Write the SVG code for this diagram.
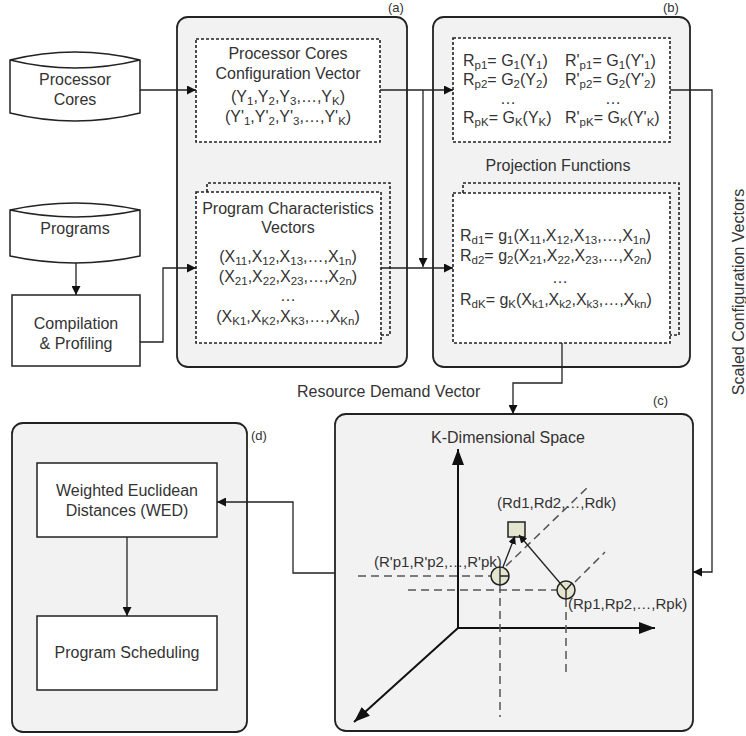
<svg xmlns="http://www.w3.org/2000/svg" width="746" height="736" viewBox="0 0 746 736">
  <defs>
    <marker id="arr" viewBox="0 0 10 10" refX="10" refY="5" markerWidth="9" markerHeight="9" markerUnits="userSpaceOnUse" orient="auto">
      <path d="M0,0 L10,5 L0,10 z" fill="#111"/>
    </marker>
    <marker id="axis" viewBox="0 0 10 10" refX="10" refY="5" markerWidth="16" markerHeight="12" markerUnits="userSpaceOnUse" orient="auto" preserveAspectRatio="none">
      <path d="M0,0 L10,5 L0,10 z" fill="#111"/>
    </marker>
    <marker id="small" viewBox="0 0 10 10" refX="10" refY="5" markerWidth="8" markerHeight="8" markerUnits="userSpaceOnUse" orient="auto">
      <path d="M0,0 L10,5 L0,10 z" fill="#111"/>
    </marker>
  </defs>
  <style>
    text { font-family: "Liberation Sans", Arial, sans-serif; font-size: 16px; fill: #333; }
    .mid { text-anchor: middle; }
    .tag { font-size: 13px; }
    .lbl { font-size: 15px; }
    .s { font-size: 11.5px; baseline-shift: -3px; }
    .panel { fill: #f2f2f2; stroke: #222; stroke-width: 1.8; }
    .box { fill: #fff; stroke: #222; stroke-width: 1.5; }
    .dash { fill: #fff; stroke: #222; stroke-width: 1.6; stroke-dasharray: 3 2; }
    .dashback { fill: none; stroke: #222; stroke-width: 1.6; stroke-dasharray: 3 2; }
    .conn { fill: none; stroke: #222; stroke-width: 1.3; }
    .guide { fill: none; stroke: #555; stroke-width: 1.5; stroke-dasharray: 8 5; }
    .ax { fill: none; stroke: #111; stroke-width: 2; }
    .pt { fill: #e3e5cf; stroke: #222; stroke-width: 1.5; }
  </style>

  <rect width="746" height="736" fill="#fff"/>

  <!-- inputs -->
  <g id="processor-cores">
    <path class="box" d="M10,60 Q75,44 140,60 V113 Q75,129 10,113 Z"/>
    <path class="conn" d="M10,60 Q75,76 140,60"/>
    <text class="mid" x="75" y="85">Processor</text>
    <text class="mid" x="75" y="105">Cores</text>
  </g>
  <g id="programs">
    <path class="box" d="M10,210 Q75,196 140,210 V256 Q75,270 10,256 Z"/>
    <path class="conn" d="M10,210 Q75,224 140,210"/>
    <text class="mid" x="75" y="234">Programs</text>
  </g>
  <g id="compilation">
    <rect class="box" x="12" y="295" width="128" height="71"/>
    <text class="mid" x="76" y="329">Compilation</text>
    <text class="mid" x="76" y="349">&amp; Profiling</text>
  </g>

  <!-- (a) vectors -->
  <g id="panel-a">
    <rect class="panel" x="177" y="17" width="230" height="350" rx="11"/>
    <text class="tag" x="388" y="12">(a)</text>
    <rect class="dash" x="196" y="39" width="184" height="103"/>
    <text class="mid" x="288" y="59">Processor Cores</text>
    <text class="mid" x="288" y="79">Configuration Vector</text>
    <text class="mid" x="288" y="102">(Y<tspan class="s">1</tspan>,Y<tspan class="s">2</tspan>,Y<tspan class="s">3</tspan>,…,Y<tspan class="s">K</tspan>)</text>
    <text class="mid" x="288" y="122">(Y'<tspan class="s">1</tspan>,Y'<tspan class="s">2</tspan>,Y'<tspan class="s">3</tspan>,…,Y'<tspan class="s">K</tspan>)</text>
    <path class="dashback" d="M207,192 V183 H390 V335 H381"/>
    <rect class="dash" x="196" y="192" width="185" height="151"/>
    <text class="mid" x="288" y="214">Program Characteristics</text>
    <text class="mid" x="288" y="233">Vectors</text>
    <text class="mid" x="288" y="262">(X<tspan class="s">11</tspan>,X<tspan class="s">12</tspan>,X<tspan class="s">13</tspan>,…,X<tspan class="s">1n</tspan>)</text>
    <text class="mid" x="288" y="282">(X<tspan class="s">21</tspan>,X<tspan class="s">22</tspan>,X<tspan class="s">23</tspan>,…,X<tspan class="s">2n</tspan>)</text>
    <text class="mid" x="288" y="301">…</text>
    <text class="mid" x="288" y="322">(X<tspan class="s">K1</tspan>,X<tspan class="s">K2</tspan>,X<tspan class="s">K3</tspan>,…,X<tspan class="s">Kn</tspan>)</text>
  </g>

  <!-- (b) projection functions -->
  <g id="panel-b">
    <rect class="panel" x="433" y="17" width="257" height="350" rx="11"/>
    <text class="tag" x="663" y="12">(b)</text>
    <rect class="dash" x="453" y="38" width="217" height="104"/>
    <text x="463" y="66">R<tspan class="s">p1</tspan>= G<tspan class="s">1</tspan>(Y<tspan class="s">1</tspan>)</text>
    <text x="565" y="66">R'<tspan class="s">p1</tspan>= G<tspan class="s">1</tspan>(Y'<tspan class="s">1</tspan>)</text>
    <text x="463" y="85">R<tspan class="s">p2</tspan>= G<tspan class="s">2</tspan>(Y<tspan class="s">2</tspan>)</text>
    <text x="565" y="85">R'<tspan class="s">p2</tspan>= G<tspan class="s">2</tspan>(Y'<tspan class="s">2</tspan>)</text>
    <text class="mid" x="508" y="104">…</text>
    <text class="mid" x="613" y="104">…</text>
    <text x="463" y="123">R<tspan class="s">pK</tspan>= G<tspan class="s">K</tspan>(Y<tspan class="s">K</tspan>)</text>
    <text x="565" y="123">R'<tspan class="s">pK</tspan>= G<tspan class="s">K</tspan>(Y'<tspan class="s">K</tspan>)</text>
    <text class="mid" x="558" y="171">Projection Functions</text>
    <path class="dashback" d="M463,193 V183 H679 V335 H670"/>
    <rect class="dash" x="453" y="193" width="217" height="150"/>
    <text x="460" y="241">R<tspan class="s">d1</tspan>= g<tspan class="s">1</tspan>(X<tspan class="s">11</tspan>,X<tspan class="s">12</tspan>,X<tspan class="s">13</tspan>,…,X<tspan class="s">1n</tspan>)</text>
    <text x="460" y="261">R<tspan class="s">d2</tspan>= g<tspan class="s">2</tspan>(X<tspan class="s">21</tspan>,X<tspan class="s">22</tspan>,X<tspan class="s">23</tspan>,…,X<tspan class="s">2n</tspan>)</text>
    <text class="mid" x="560" y="283">…</text>
    <text x="460" y="305">R<tspan class="s">dK</tspan>= g<tspan class="s">K</tspan>(X<tspan class="s">k1</tspan>,X<tspan class="s">k2</tspan>,X<tspan class="s">k3</tspan>,…,X<tspan class="s">kn</tspan>)</text>
  </g>

  <!-- (c) K-dimensional space -->
  <g id="panel-c">
    <rect class="panel" x="335" y="414" width="358" height="317" rx="11"/>
    <text class="tag" x="653" y="405">(c)</text>
    <text class="mid" x="508" y="443">K-Dimensional Space</text>
    <path class="ax" d="M458,628 V449" marker-end="url(#axis)"/>
    <path class="ax" d="M458,628 H655" marker-end="url(#axis)"/>
    <path class="ax" d="M458,628 L354,722" marker-end="url(#axis)"/>
    <path class="guide" d="M358,576 H491"/>
    <path class="guide" d="M408,590 H557"/>
    <path class="guide" d="M500,585 V717"/>
    <path class="guide" d="M566,599 V675"/>
    <path class="guide" d="M506,566 L588,487"/>
    <path class="guide" d="M575,582 L605,552"/>
    <text x="497" y="508" class="lbl">(Rd1,Rd2,…,Rdk)</text>
    <text x="374" y="567" class="lbl">(R'p1,R'p2,…,R'pk)</text>
    <text x="568" y="609" class="lbl">(Rp1,Rp2,…,Rpk)</text>
    <rect class="pt" x="508" y="522" width="17" height="15"/>
    <path class="conn" d="M503,567 L515,536" marker-end="url(#small)"/>
    <path class="conn" d="M560,583 L519,535" marker-end="url(#small)"/>
    <circle class="pt" cx="500" cy="576" r="9"/>
    <path class="conn" d="M500,567 V585 M500,576 H509"/>
    <circle class="pt" cx="566" cy="590" r="9"/>
    <path class="conn" d="M566,590 L560,583 M566,590 L572,583 M566,590 V599"/>
  </g>

  <!-- (d) scheduling -->
  <g id="panel-d">
    <rect class="panel" x="12" y="423" width="235" height="309" rx="11"/>
    <text class="tag" x="251" y="440">(d)</text>
    <g id="wed">
      <rect class="box" x="37" y="463" width="180" height="74"/>
      <text class="mid" x="127" y="496">Weighted Euclidean</text>
      <text class="mid" x="127" y="516">Distances (WED)</text>
    </g>
    <g id="scheduling">
      <rect class="box" x="37" y="616" width="180" height="74"/>
      <text class="mid" x="127" y="658">Program Scheduling</text>
    </g>
  </g>

  <!-- connectors -->
  <g id="connectors">
    <path class="conn" d="M140,90 H196" marker-end="url(#arr)"/>
    <path class="conn" d="M76,263 V295" marker-end="url(#arr)"/>
    <path class="conn" d="M140,342 H163 V268 H196" marker-end="url(#arr)"/>
    <path class="conn" d="M380,90 H453" marker-end="url(#arr)"/>
    <path class="conn" d="M423,90 V267" marker-end="url(#arr)"/>
    <path class="conn" d="M381,268 H453" marker-end="url(#arr)"/>
    <path class="conn" d="M670,90 H712 V572 H693" marker-end="url(#arr)"/>
    <path class="conn" d="M562,343 V383 H513 V414" marker-end="url(#arr)"/>
    <path class="conn" d="M335,573 H293 V502 H217" marker-end="url(#arr)"/>
    <path class="conn" d="M127,537 V616" marker-end="url(#arr)"/>
    <text x="297" y="397">Resource Demand Vector</text>
    <text class="mid" transform="translate(744,292) rotate(-90)">Scaled Configuration Vectors</text>
  </g>
</svg>
